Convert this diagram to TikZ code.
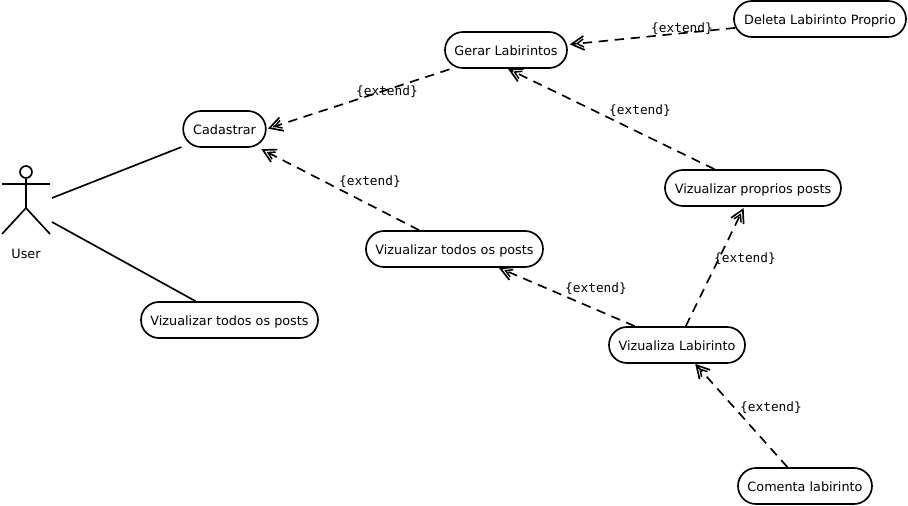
\documentclass[tikz,border=0pt]{standalone}
\usepackage{fontspec}
\setmainfont{DejaVu Sans}
\setmonofont{DejaVu Sans Mono}
\usetikzlibrary{arrows.meta,shapes.misc}
\tikzset{
  usecase/.style={draw,rounded rectangle,line width=1.25pt,minimum height=27pt,inner sep=0pt,text height=8.5pt,text depth=0pt,font=\fontsize{9.6}{11}\selectfont},
  extends/.style={dashed,dash pattern=on 7pt off 5pt,line width=1.25pt,-{Straight Barb[length=5pt,width=6pt,line width=1.1pt,sep=-7pt]Straight Barb[length=9.5pt,width=10.5pt,line width=1.25pt]}},
  assoc/.style={line width=1.25pt},
  stereo/.style={font=\fontsize{9.6}{11}\selectfont\ttfamily},
  actorpart/.style={line width=1.25pt}
}
\begin{document}
\begin{tikzpicture}[x=0.75pt,y=-0.75pt]
\useasboundingbox (0,0) rectangle (908,506);
\node[usecase,minimum width=62pt] (cadastrar) at (224.5,129) {Cadastrar};
\node[usecase,minimum width=91.5pt] (gerar) at (506,50) {Gerar Labirintos};
\node[usecase,minimum width=129pt] (deleta) at (820,19) {Deleta Labirinto Proprio};
\node[usecase,minimum width=132pt] (proprios) at (753,188) {Vizualizar proprios posts};
\node[usecase,minimum width=132.75pt] (todos) at (454.5,249) {Vizualizar todos os posts};
\node[usecase,minimum width=132.75pt] (todosuser) at (229.5,320) {Vizualizar todos os posts};
\node[usecase,minimum width=102pt] (labirinto) at (677,345) {Vizualiza Labirinto};
\node[usecase,minimum width=100.5pt] (comenta) at (805,486) {Comenta labirinto};
\node[draw,circle,actorpart,minimum size=9pt,inner sep=0pt] (head) at (26,172) {};
\coordinate (hip) at (26,208);
\coordinate (handl) at (2,184);
\coordinate (handr) at (50,184);
\coordinate (footl) at (2,234);
\coordinate (footr) at (50,234);
\node[font=\fontsize{9.6}{11}\selectfont] (user) at (26,254) {User};
\draw[actorpart] (head) -- (hip);
\draw[actorpart] (handl) -- (handr);
\draw[actorpart] (footl) -- (hip) -- (footr);
\coordinate (usera) at (52,198);
\coordinate (userb) at (52,222);
\draw[assoc,shorten >=6.5pt] (usera) -- (cadastrar.203);
\draw[assoc] (userb) -- (todosuser.151);
\draw[extends,shorten <=5pt,shorten >=1pt] (gerar.199) -- (cadastrar.0);
\draw[extends,shorten >=2pt] (deleta.186) -- (gerar.5);
\draw[extends] (proprios.154) -- (gerar.276);
\draw[extends,shorten >=5pt] (todos.152) -- (cadastrar.331);
\draw[extends] (labirinto.156) -- (todos.337);
\draw[extends,shorten >=1pt] (labirinto.65) -- (proprios.245);
\draw[extends] (comenta.133) -- (labirinto.314);
\node[stereo] (e1) at (387,92) {\{extend\}};
\node[stereo] (e2) at (682,29) {\{extend\}};
\node[stereo] (e3) at (640,111) {\{extend\}};
\node[stereo] (e4) at (370,182) {\{extend\}};
\node[stereo] (e5) at (596,289) {\{extend\}};
\node[stereo] (e6) at (745,259) {\{extend\}};
\node[stereo] (e7) at (771,408) {\{extend\}};
\end{tikzpicture}
\end{document}
